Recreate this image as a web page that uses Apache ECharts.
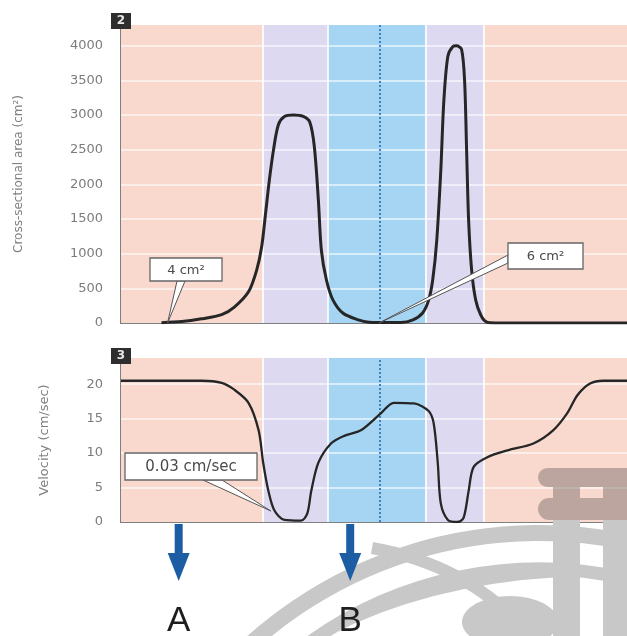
<!DOCTYPE html>
<html>
<head>
<meta charset="utf-8">
<script src="https://cdn.jsdelivr.net/npm/echarts@6/dist/echarts.min.js"></script>
<style>
  html, body { margin: 0; background: #fff; }
  #chart { width: 627px; height: 636px; }
</style>
</head>
<body>
<div id="chart"></div>
<script>
// position along the vessel path, 0..100
const segmentEdges = [0, 28.1, 40.9, 60.2, 71.7, 100]
const segmentKinds = ['artery', 'arteriole', 'capillary', 'venule', 'vein']
const capillaryMid = 51.2

const areaTicks = [0, 500, 1000, 1500, 2000, 2500, 3000, 3500, 4000]
const velocityTicks = [0, 5, 10, 15, 20]

// cross-sectional area (cm²)
const areaCurve = [
  [8, 4], [12, 20], [15.9, 60], [19.9, 120], [22.4, 230], [25.2, 450], [26.8, 760],
  [27.8, 1100], [28.6, 1600], [29.3, 2050], [30.1, 2480], [31.1, 2860], [32.3, 2980],
  [34.1, 3000], [36, 2980], [37.3, 2900], [38.2, 2550], [39, 1780], [39.6, 1050],
  [40.6, 620], [41.9, 330], [43.9, 140], [46.9, 45], [49, 10], [50.8, 6], [55.3, 6],
  [57.7, 45], [59.6, 145], [60.8, 330], [61.6, 620], [62.4, 1190], [63.2, 2200],
  [63.8, 3200], [64.6, 3850], [65.6, 3990], [66.3, 4000], [67.3, 3950], [67.9, 3500],
  [68.3, 2500], [68.7, 1480], [69.3, 760], [70.1, 330], [71.1, 115], [72.2, 15],
  [74, 0], [100, 0]
]

// velocity (cm/sec)
const velocityCurve = [
  [0, 20.5], [15.9, 20.5], [19.9, 20.2], [22.4, 19.2], [25.2, 17.3], [27.2, 13.3],
  [28.1, 8.6], [29.1, 4.6], [30.3, 1.7], [32.3, 0.3], [35.6, 0.2], [36.8, 1.2],
  [37.6, 4.5], [39, 8.6], [41.5, 11.4], [44.1, 12.5], [47.4, 13.3], [51.4, 15.8],
  [53.9, 17.3], [57.9, 17.2], [60.8, 16.1], [61.8, 14.3], [62.6, 8.6], [63.2, 2.7],
  [64.6, 0.3], [66.5, 0], [67.7, 0.6], [68.7, 4.5], [69.7, 8], [72.4, 9.4],
  [76.4, 10.4], [81.5, 11.4], [85.4, 13.3], [88.2, 15.8], [90.2, 18.4], [92.7, 20.1],
  [95.3, 20.5], [100, 20.5]
]

// callouts: text, target point [x, y], panel
const calloutTexts = ['4 cm²', '6 cm²', '0.03 cm/sec']
const calloutTargets = [[9.2, 0], [51, 0], [29.6, 1.6]]
const calloutPanels = [0, 0, 1]

// arrows under the chart
const markerLetters = ['A', 'B']
const markerX = [11.4, 45.3]

const kindColor = {
  artery: '#f9d8cd',
  arteriole: '#ddd9f0',
  capillary: '#a6d5f4',
  venule: '#ddd9f0',
  vein: '#f9d8cd'
}

const chart = echarts.init(document.getElementById('chart'))

function backgroundSeries(idx, ticks) {
  const bands = []
  for (let i = 0; i < segmentKinds.length; i++) {
    bands.push([
      { xAxis: segmentEdges[i], itemStyle: { color: kindColor[segmentKinds[i]] } },
      { xAxis: segmentEdges[i + 1] }
    ])
  }
  const lines = []
  ticks.slice(1).forEach(t => {
    lines.push({ yAxis: t, lineStyle: { color: '#fff', width: 1.5, opacity: 0.75, type: 'solid' } })
  })
  segmentEdges.slice(1, -1).forEach(e => {
    lines.push({ xAxis: e, lineStyle: { color: '#fff', width: 2, opacity: 0.8, type: 'solid' } })
  })
  lines.push({ xAxis: capillaryMid, lineStyle: { color: '#3a82c4', width: 2, type: 'dotted' } })
  return {
    type: 'line',
    xAxisIndex: idx,
    yAxisIndex: idx,
    data: [],
    silent: true,
    markArea: { silent: true, data: bands },
    markLine: { silent: true, z: 1.5, symbol: 'none', label: { show: false }, data: lines }
  }
}

const axisFont = { color: '#7c7c7c', fontSize: 13, fontFamily: 'DejaVu Sans' }

chart.setOption({
  animation: false,
  grid: [
    { left: 121, right: 0, top: 25, height: 298, outerBoundsMode: 'none' },
    { left: 121, right: 0, top: 358, height: 164, outerBoundsMode: 'none' }
  ],
  xAxis: [0, 1].map(i => ({
    type: 'value',
    gridIndex: i,
    min: 0,
    max: 100,
    axisLine: { show: true, lineStyle: { color: '#555', width: 1.5 } },
    axisTick: { show: false },
    axisLabel: { show: false },
    splitLine: { show: false }
  })),
  yAxis: [
    {
      type: 'value',
      gridIndex: 0,
      min: 0,
      max: 4300,
      interval: 500,
      name: 'Cross-sectional area (cm²)',
      nameLocation: 'middle',
      nameGap: 96,
      nameTextStyle: { color: '#808080', fontSize: 12, fontFamily: 'DejaVu Sans' },
      axisLine: { show: true, lineStyle: { color: '#555', width: 1.5 } },
      axisTick: { show: false },
      axisLabel: Object.assign({ margin: 18, showMaxLabel: false,
        formatter: v => (areaTicks.includes(v) ? String(v) : '') }, axisFont),
      splitLine: { show: false }
    },
    {
      type: 'value',
      gridIndex: 1,
      min: 0,
      max: 23.8,
      interval: 5,
      name: 'Velocity (cm/sec)',
      nameLocation: 'middle',
      nameGap: 70,
      nameTextStyle: { color: '#808080', fontSize: 13, fontFamily: 'DejaVu Sans' },
      axisLine: { show: true, lineStyle: { color: '#555', width: 1.5 } },
      axisTick: { show: false },
      axisLabel: Object.assign({ margin: 18, showMaxLabel: false,
        formatter: v => (velocityTicks.includes(v) ? String(v) : '') }, axisFont),
      splitLine: { show: false }
    }
  ],
  series: [
    backgroundSeries(0, areaTicks),
    backgroundSeries(1, velocityTicks),
    {
      type: 'line',
      xAxisIndex: 0,
      yAxisIndex: 0,
      z: 3,
      data: areaCurve,
      smooth: 0.3,
      showSymbol: false,
      lineStyle: { color: '#262626', width: 3 }
    },
    {
      type: 'line',
      xAxisIndex: 1,
      yAxisIndex: 1,
      z: 3,
      data: velocityCurve,
      smooth: 0.3,
      showSymbol: false,
      lineStyle: { color: '#262626', width: 2.3 }
    }
  ]
})

// annotation layer
const boxes = [
  { x: 150, y: 258, w: 72, h: 23, font: 13, tipFrom: [[177, 281], [185, 281]] },
  { x: 508, y: 243, w: 75, h: 26, font: 13, tipFrom: [[508, 255], [508, 263]] },
  { x: 125, y: 453, w: 132, h: 27, font: 15, tipFrom: [[203, 480], [222, 480]] }
]
const graphics = []

boxes.forEach((b, i) => {
  const p = chart.convertToPixel({ gridIndex: calloutPanels[i] }, calloutTargets[i])
  graphics.push({
    type: 'polygon', z: 20,
    shape: { points: [b.tipFrom[0], b.tipFrom[1], p] },
    style: { fill: '#fff', stroke: '#555', lineWidth: 1 }
  })
  graphics.push({
    type: 'rect', z: 21,
    shape: { x: b.x, y: b.y, width: b.w, height: b.h },
    style: { fill: '#fff', stroke: '#666', lineWidth: 1.3 }
  })
  graphics.push({
    type: 'text', z: 22,
    style: {
      text: calloutTexts[i], x: b.x + b.w / 2, y: b.y + b.h / 2 + 1,
      textAlign: 'center', textVerticalAlign: 'middle',
      font: b.font + 'px "DejaVu Sans"', fill: '#4a4a4a'
    }
  })
})

// panel numbers
;[['2', 13], ['3', 348]].forEach(([t, y]) => {
  graphics.push({ type: 'rect', z: 22, shape: { x: 111, y: y, width: 20, height: 16 }, style: { fill: '#2e2e2e' } })
  graphics.push({
    type: 'text', z: 23,
    style: { text: t, x: 121, y: y + 8, textAlign: 'center', textVerticalAlign: 'middle',
      font: 'bold 12px "DejaVu Sans"', fill: '#e8e8e8' }
  })
})

// arrows A / B
markerLetters.forEach((letter, i) => {
  const px = chart.convertToPixel({ xAxisIndex: 1 }, markerX[i])
  graphics.push({ type: 'rect', z: 22, shape: { x: px - 4, y: 524, width: 8, height: 32 }, style: { fill: '#1c5da4' } })
  graphics.push({
    type: 'polygon', z: 22,
    shape: { points: [[px - 11, 553], [px + 11, 553], [px, 581]] },
    style: { fill: '#1c5da4' }
  })
  graphics.push({
    type: 'text', z: 22,
    style: { text: letter, x: px, y: 621, textAlign: 'center', textVerticalAlign: 'middle',
      font: '35px "Liberation Sans"', fill: '#1e1e1e' }
  })
})

// watermark
const wmSolid = '#c8c8c8'
const wmTint = 'rgba(105,95,95,0.42)'
graphics.push({ type: 'arc', z: 15, shape: { cx: 539, cy: 964, r: 431, startAngle: -2.45, endAngle: -1.3 },
  style: { stroke: wmSolid, lineWidth: 16, fill: null } })
graphics.push({ type: 'arc', z: 15, shape: { cx: 539, cy: 964, r: 395, startAngle: -2.25, endAngle: -1.3 },
  style: { stroke: wmSolid, lineWidth: 13, fill: null } })
graphics.push({ type: 'bezierCurve', z: 15, shape: { x1: 372, y1: 548, cpx1: 470, cpy1: 565, x2: 530, y2: 636 },
  style: { stroke: wmSolid, lineWidth: 12, fill: null } })
graphics.push({ type: 'bezierCurve', z: 15, shape: { x1: 318, y1: 636, cpx1: 420, cpy1: 580, x2: 560, y2: 572 },
  style: { stroke: wmSolid, lineWidth: 10, fill: null } })
graphics.push({ type: 'ellipse', z: 15, shape: { cx: 510, cy: 622, rx: 48, ry: 26 }, style: { fill: wmSolid } })
graphics.push({ type: 'rect', z: 24, shape: { x: 538, y: 468, width: 89, height: 19, r: [10, 0, 0, 10] }, style: { fill: wmTint } })
graphics.push({ type: 'rect', z: 24, shape: { x: 538, y: 498, width: 89, height: 22, r: [11, 0, 0, 11] }, style: { fill: wmTint } })
graphics.push({ type: 'rect', z: 24, shape: { x: 553, y: 487, width: 27, height: 11 }, style: { fill: wmTint } })
graphics.push({ type: 'rect', z: 24, shape: { x: 603, y: 487, width: 24, height: 11 }, style: { fill: wmTint } })
graphics.push({ type: 'rect', z: 24, shape: { x: 553, y: 520, width: 27, height: 116 }, style: { fill: wmSolid } })
graphics.push({ type: 'rect', z: 24, shape: { x: 603, y: 520, width: 24, height: 116 }, style: { fill: wmSolid } })

chart.setOption({ graphic: graphics })
</script>
</body>
</html>
